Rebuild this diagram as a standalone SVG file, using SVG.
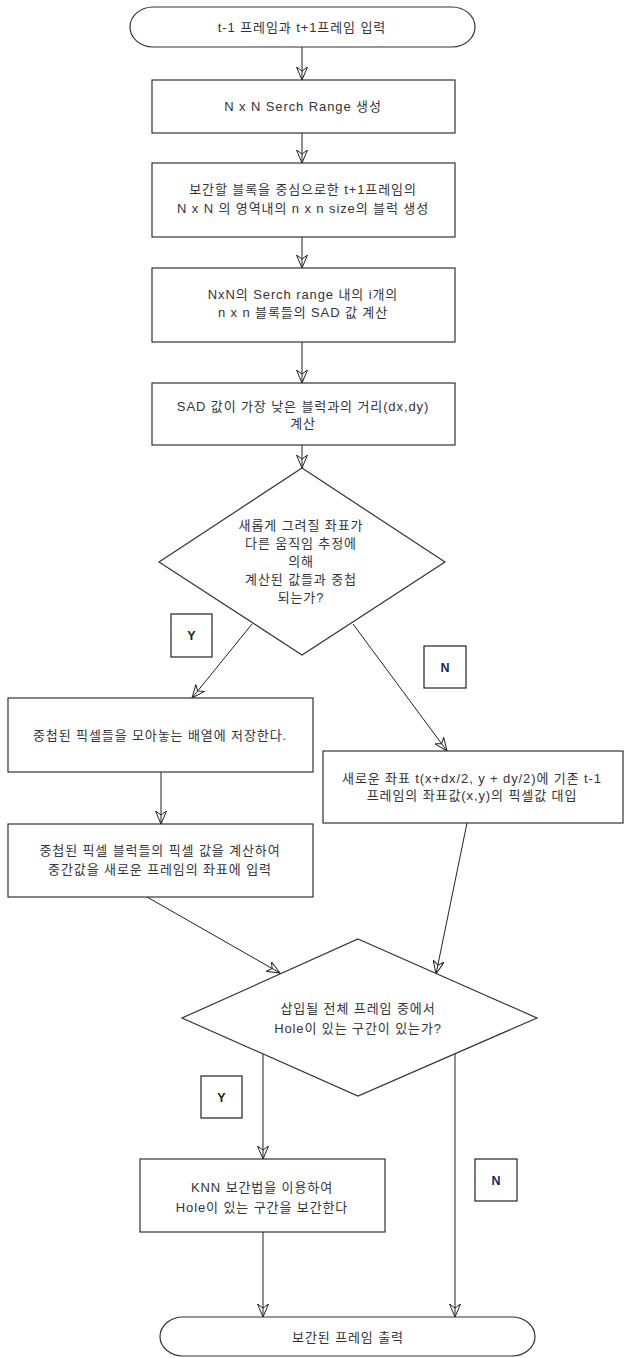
<svg xmlns="http://www.w3.org/2000/svg" width="626" height="1358" viewBox="0 0 626 1358">
<defs>
<style>
.bg{fill:#ffffff}
.shape{fill:#ffffff;stroke:#333333;stroke-width:1.2}
.lbl{fill:#ffffff;stroke:#222222;stroke-width:1.2}
.conn{fill:none;stroke:#222222;stroke-width:1}
.t{font-family:"Liberation Sans","Noto Sans CJK KR",sans-serif;font-size:13px;fill:#333340;text-anchor:middle;letter-spacing:0.9px}
.yn{font-family:"Liberation Sans","Noto Sans CJK KR",sans-serif;font-size:12.5px;font-weight:bold;fill:#222222;text-anchor:middle}
.n{fill:#1e1e6a}
</style>
<marker id="ah" markerUnits="userSpaceOnUse" viewBox="0 0 14 12" markerWidth="14" markerHeight="12" refX="13" refY="6" orient="auto">
<path d="M0,0.5 L13,6 L0,11.5 L4,6 Z" fill="none" stroke="#222222" stroke-width="1"/>
</marker>
</defs>
<rect class="bg" x="0" y="0" width="626" height="1358"/>

<g id="connectors">
<line class="conn" x1="302" y1="47" x2="302" y2="80" marker-end="url(#ah)"/>
<line class="conn" x1="302" y1="133" x2="302" y2="163" marker-end="url(#ah)"/>
<line class="conn" x1="302" y1="237" x2="302" y2="268" marker-end="url(#ah)"/>
<line class="conn" x1="302" y1="342" x2="302" y2="383" marker-end="url(#ah)"/>
<line class="conn" x1="302" y1="445" x2="302" y2="468" marker-end="url(#ah)"/>
<line class="conn" x1="252" y1="624" x2="192" y2="698" marker-end="url(#ah)"/>
<line class="conn" x1="353" y1="624" x2="447" y2="751" marker-end="url(#ah)"/>
<line class="conn" x1="161" y1="772" x2="161" y2="824" marker-end="url(#ah)"/>
<line class="conn" x1="147" y1="897" x2="280" y2="973" marker-end="url(#ah)"/>
<line class="conn" x1="467" y1="823" x2="436" y2="974" marker-end="url(#ah)"/>
<line class="conn" x1="263" y1="1053" x2="263" y2="1159" marker-end="url(#ah)"/>
<line class="conn" x1="455" y1="1053" x2="455" y2="1317" marker-end="url(#ah)"/>
<line class="conn" x1="263" y1="1232" x2="263" y2="1317" marker-end="url(#ah)"/>
</g>

<g id="start">
<path class="shape" d="M153,7 L452,7 A23,20 0 0 1 452,47 L153,47 A23,20 0 0 1 153,7 Z"/>
<text class="t" x="302" y="31.5">t-1 프레임과 t+1프레임 입력</text>
</g>

<g id="box1">
<rect class="shape" x="152" y="80" width="303" height="53"/>
<text class="t" x="303" y="111">N x N Serch Range 생성</text>
</g>

<g id="box2">
<rect class="shape" x="152" y="163" width="303" height="74"/>
<text class="t" x="303" y="194">보간할 블록을 중심으로한 t+1프레임의</text>
<text class="t" x="303" y="213">N x N 의 영역내의 n x n size의 블럭 생성</text>
</g>

<g id="box3">
<rect class="shape" x="152" y="268" width="303" height="74"/>
<text class="t" x="303" y="299">NxN의 Serch range 내의 i개의</text>
<text class="t" x="303" y="317">n x n 블록들의 SAD 값 계산</text>
</g>

<g id="box4">
<rect class="shape" x="152" y="383" width="303" height="62"/>
<text class="t" x="303" y="411">SAD 값이 가장 낮은 블럭과의 거리(dx,dy)</text>
<text class="t" x="303" y="428">계산</text>
</g>

<g id="decision1">
<polygon class="shape" points="302,468 445,562 302,655 159,562"/>
<text class="t" x="301" y="529.5">새롭게 그려질 좌표가</text>
<text class="t" x="301" y="547.5">다른 움직임 추정에</text>
<text class="t" x="301" y="566">의해</text>
<text class="t" x="301" y="584">계산된 값들과 중첩</text>
<text class="t" x="301" y="602">되는가?</text>
</g>

<g id="label-y1">
<rect class="lbl" x="171" y="614" width="41" height="43"/>
<text class="yn" x="191.5" y="640">Y</text>
</g>

<g id="label-n1">
<rect class="lbl" x="424" y="646" width="42" height="42"/>
<text class="yn n" x="445" y="671.5">N</text>
</g>

<g id="box5">
<rect class="shape" x="8" y="698" width="305" height="74"/>
<text class="t" x="160" y="739.5">중첩된 픽셀들을 모아놓는 배열에 저장한다.</text>
</g>

<g id="box6">
<rect class="shape" x="323" y="751" width="300" height="72"/>
<text class="t" x="472" y="782.5">새로운 좌표 t(x+dx/2, y + dy/2)에 기존 t-1</text>
<text class="t" x="472" y="799.5">프레임의 좌표값(x,y)의 픽셀값 대입</text>
</g>

<g id="box7">
<rect class="shape" x="8" y="824" width="305" height="73"/>
<text class="t" x="160" y="854.5">중첩된 픽셀 블럭들의 픽셀 값을 계산하여</text>
<text class="t" x="160" y="873.5">중간값을 새로운 프레임의 좌표에 입력</text>
</g>

<g id="decision2">
<polygon class="shape" points="358,939 537,1018 358,1096 182,1018"/>
<text class="t" x="358" y="1012.5">삽입될 전체 프레임 중에서</text>
<text class="t" x="358" y="1032.5">Hole이 있는 구간이 있는가?</text>
</g>

<g id="label-y2">
<rect class="lbl" x="201" y="1076" width="41" height="42"/>
<text class="yn" x="221.5" y="1101.5">Y</text>
</g>

<g id="label-n2">
<rect class="lbl" x="475" y="1159" width="42" height="42"/>
<text class="yn n" x="496" y="1184.5">N</text>
</g>

<g id="box8">
<rect class="shape" x="140" y="1159" width="245" height="73"/>
<text class="t" x="262" y="1191.5">KNN 보간법을 이용하여</text>
<text class="t" x="262" y="1211.5">Hole이 있는 구간을 보간한다</text>
</g>

<g id="end">
<path class="shape" d="M183,1317 L512,1317 A23,19.5 0 0 1 512,1356 L183,1356 A23,19.5 0 0 1 183,1317 Z"/>
<text class="t" x="348" y="1341.5">보간된 프레임 출력</text>
</g>
</svg>
